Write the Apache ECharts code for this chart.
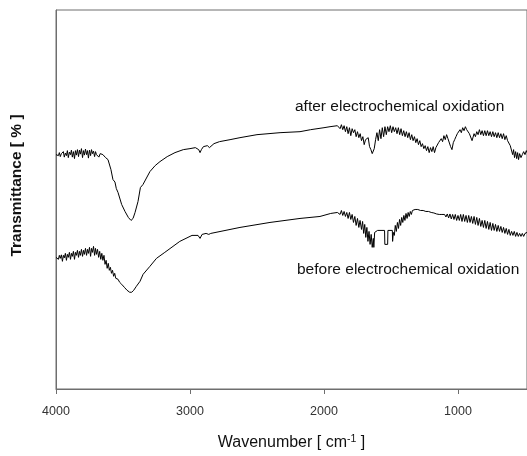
<!DOCTYPE html>
<html>
<head>
<meta charset="utf-8">
<script src="https://cdn.jsdelivr.net/npm/echarts@6/dist/echarts.min.js"></script>
<style>
html,body{margin:0;padding:0;background:#fff;}
#chart{width:527px;height:456px;}
</style>
</head>
<body>
<div id="chart"></div>
<script>
// x-axis tick labels (wavenumber, cm^-1)
var xTicks = [1000, 2000, 3000, 4000];

// "after electrochemical oxidation" spectrum: wavenumbers and transmittance (arbitrary offset units)
var afterWn = [4000,3990,3982,3975,3968,3960,3952,3945,3938,3930,3922,3915,3908,3900,3892,3885,3878,3870,3862,3855,3848,3840,3832,3825,3818,3810,3802,3795,3788,3780,3772,3765,3758,3750,3742,3735,3728,3720,3712,3705,3698,3690,3680,3670,3660,3650,3630,3612,3590,3575,3560,3550,3537,3510,3485,3460,3440,3425,3410,3388,3370,3351,3299,3260,3224,3170,3112,3050,3000,2960,2935,2925,2915,2900,2870,2855,2843,2821,2780,2701,2627,2500,2328,2179,2100,2000,1955,1900,
1890,1880,1870,1860,1850,1840,1830,1820,1810,1800,1790,1780,1770,1760,1750,1740,1730,1720,1710,1700,1690,1680,1670,1660,1650,1640,1632,1625,1615,1605,1595,1585,1575,1565,1555,1545,1535,1525,1515,1505,1495,1485,1475,1465,1455,1445,1435,1425,1415,1405,1395,1385,1375,1365,1355,1345,1335,1325,1315,1305,1295,1285,1275,1265,1255,1245,1235,1225,1215,1205,1195,1185,1175,1165,1155,1145,1135,1125,1115,1105,1095,1085,1075,1065,1055,1045,1035,1025,1015,1005,995,985,975,965,955,945,935,925,915,905,895,888,880,870,860,850,840,830,820,810,
800,790,780,770,760,750,740,730,720,710,700,690,680,670,660,650,640,630,620,610,600,592,585,578,570,562,555,548,540,530,520,510,500,490,485];
var afterT = [47.0,47.2,46.8,47.4,46.6,47.2,46.9,47.6,46.5,47.3,46.8,47.8,46.4,47.5,47.0,47.9,46.5,47.6,46.2,47.8,46.9,48.0,46.6,47.9,47.1,48.2,46.4,47.8,46.9,48.1,47.0,47.8,46.3,47.9,46.8,48.0,47.2,47.7,46.6,47.6,47.0,47.4,46.5,47.2,46.8,47.0,46.4,46.0,44.0,42.0,41.5,40.2,39.4,37.0,35.6,34.4,33.8,34.2,35.4,37.6,40.4,41.0,43.6,44.8,45.6,46.6,47.4,48.0,48.2,48.4,48.0,47.4,48.0,48.6,48.8,48.4,48.8,49.2,49.6,50.0,50.4,51.0,51.4,51.6,52.0,52.4,52.6,52.8,
52.8,52.2,53.0,52.0,52.8,51.6,52.6,51.2,52.4,50.8,52.2,51.4,52.0,50.6,51.6,50.4,51.2,49.8,50.6,49.0,50.0,49.6,50.4,48.6,48.0,47.2,47.0,48.2,50.0,51.4,49.8,52.0,50.2,52.4,50.6,52.6,51.0,52.6,51.6,52.8,51.4,52.6,51.6,52.4,51.2,52.4,51.0,52.2,50.8,51.8,50.6,51.6,50.4,51.4,50.0,51.0,49.8,50.6,49.4,50.2,49.0,49.8,48.6,49.2,48.2,48.8,47.8,48.6,47.4,48.4,47.6,48.6,47.4,48.4,48.0,49.4,49.0,50.2,49.6,50.8,50.0,51.0,50.2,50.4,48.6,48.0,49.4,50.0,50.6,51.2,51.0,52.0,51.4,52.4,51.8,52.6,52.0,52.4,51.2,51.6,49.8,50.0,51.2,50.6,51.6,51.0,52.0,51.0,51.8,50.8,
51.8,50.8,51.8,50.8,51.6,50.6,51.6,50.6,51.4,50.4,51.4,50.4,51.2,50.2,51.2,50.0,50.8,49.8,50.2,48.8,48.6,47.0,48.0,46.4,47.6,46.2,47.4,46.0,47.2,46.4,47.0,47.6,47.0,47.8,47.4];

// "before electrochemical oxidation" spectrum
var beforeWn = [4000,3990,3982,3975,3968,3960,3952,3945,3938,3930,3922,3915,3908,3900,3892,3885,3878,3870,3862,3855,3848,3840,3832,3825,3818,3810,3802,3795,3788,3780,3772,3765,3758,3750,3742,3735,3728,3720,3712,3705,3698,3690,3682,3674,3666,3658,3650,3642,3634,3626,3618,3610,3602,3594,3586,3578,3570,3562,3554,3546,3537,3525,3510,3490,3470,3450,3435,3420,3400,3373,3350,3299,3250,3188,3076,2985,2940,2925,2910,2880,2860,2845,2627,2403,2179,2030,1950,1900,
1890,1880,1870,1860,1850,1840,1830,1820,1810,1800,1790,1780,1770,1760,1750,1740,1731,1720,1712,1704,1696,1688,1680,1672,1664,1656,1648,1640,1632,1628,1622,1612,1600,1548,1546,1525,1523,1490,1488,1484,1482,1475,1468,1460,1452,1444,1436,1428,1420,1412,1404,1396,1388,1380,1372,1364,1356,1348,1340,1330,1320,1310,1300,1290,1280,1270,1260,1250,1240,1230,1220,1210,1200,1190,1180,1170,1160,1150,1140,1130,1120,1110,1100,1090,1080,1070,1060,1050,1040,1030,1020,1010,1000,990,980,970,960,950,940,930,920,910,900,890,880,870,860,850,840,830,820,810,
800,790,780,770,760,750,740,730,720,710,700,690,680,670,660,650,640,630,620,610,600,590,580,570,560,550,540,530,520,510,500,490,485];
var beforeT = [26.4,26.6,26.0,26.8,26.2,26.9,25.6,26.8,26.3,27.2,25.8,27.0,26.4,27.4,26.0,27.2,26.6,27.6,26.0,27.4,26.8,27.8,26.4,27.6,26.8,28.0,26.6,27.8,27.0,28.2,26.8,28.0,27.2,28.4,26.6,28.2,27.4,28.6,26.8,28.2,27.0,28.0,26.4,27.6,26.0,27.2,25.8,26.8,25.0,25.8,24.2,25.2,23.8,24.4,23.2,23.8,22.6,23.2,22.2,22.6,22.0,21.4,21.0,20.4,19.8,19.4,19.4,19.8,20.6,21.6,23.0,24.6,26.2,27.4,29.6,30.8,30.8,30.2,31.0,31.2,31.0,31.2,32.4,33.4,34.2,34.6,35.2,35.4,
35.6,35.0,35.8,34.8,35.6,34.6,35.4,34.2,35.4,34.0,35.0,33.4,34.6,32.8,34.2,32.4,33.8,32.0,33.6,31.2,33.0,30.4,32.4,29.6,31.6,29.0,31.0,28.4,30.2,28.4,31.4,31.6,31.8,31.8,29.0,29.0,31.8,31.8,29.6,29.6,31.4,30.8,32.8,31.6,33.4,32.2,34.0,32.8,34.4,33.4,34.8,33.8,35.2,34.2,35.4,34.6,35.6,35.0,35.8,35.5,36.0,35.7,36.0,35.7,35.8,35.6,35.8,35.5,35.6,35.4,35.6,35.3,35.4,35.2,35.3,35.0,35.1,34.9,35.0,34.8,35.0,34.7,35.0,34.5,35.1,34.3,35.1,34.1,35.0,34.0,35.0,33.8,34.8,33.8,35.0,33.6,35.0,33.6,34.8,33.4,34.8,33.4,34.6,33.2,34.6,33.0,34.4,32.8,34.2,32.6,33.8,32.4,33.8,32.2,
33.6,32.0,33.4,31.8,33.2,31.8,33.0,31.6,32.8,31.6,32.6,31.4,32.4,31.2,32.2,31.0,32.0,30.8,31.6,30.8,31.6,30.6,31.4,30.6,31.2,30.6,31.2,30.6,31.2,31.0,31.4,31.6,31.4];

// annotation texts
var labelAfter = 'after electrochemical oxidation';
var labelBefore = 'before electrochemical oxidation';

function pairs(xs, ys){ var out=[]; for(var i=0;i<xs.length;i++){ out.push([xs[i], ys[i]]); } return out; }

var FONT = '"Liberation Sans", Arial, sans-serif';
var chart = echarts.init(document.getElementById('chart'), null, {renderer:'canvas'});
var option = {
  animation: false,
  backgroundColor: '#fff',
  grid: { left: 56, top: 10, width: 473, height: 380, show: true, borderColor: '#6e6e6e', borderWidth: 1, containLabel: false },
  xAxis: {
    type: 'value', inverse: true, min: 485, max: 4000,
    name: '{a|Wavenumber [ cm}{s|-1}{a| ]}',
    nameLocation: 'middle', nameGap: 45,
    nameTextStyle: { rich: {
      a: { fontFamily: FONT, fontSize: 16, color: '#111', verticalAlign: 'bottom' },
      s: { fontFamily: FONT, fontSize: 10.5, color: '#111', verticalAlign: 'top', padding: [0,0,6,0] }
    } },
    axisLine: { show: true, lineStyle: { color: '#6e6e6e', width: 1 } },
    axisTick: { show: true, inside: false, length: 5, customValues: xTicks, lineStyle: { color: '#6e6e6e' } },
    axisLabel: { show: true, customValues: xTicks, margin: 16, fontFamily: FONT, fontSize: 12.5, color: '#333', showMinLabel: true, showMaxLabel: true,
      formatter: function (v) { return String(v); } },
    splitLine: { show: false }
  },
  yAxis: {
    type: 'value', min: 0, max: 76,
    name: 'Transmittance [ % ]',
    nameLocation: 'middle', nameGap: 31,
    nameTextStyle: { fontFamily: FONT, fontWeight: 'bold', fontSize: 15.5, color: '#111', padding: [0,0,0,28] },
    axisLine: { show: true, lineStyle: { color: '#6e6e6e' } },
    axisTick: { show: false }, axisLabel: { show: false }, splitLine: { show: false }
  },
  graphic: [
    { type: 'text', left: 295, top: 99, style: { text: labelAfter, font: '15.5px ' + FONT, fill: '#111' } },
    { type: 'text', left: 297, top: 262, style: { text: labelBefore, font: '15.5px ' + FONT, fill: '#111' } }
  ],
  series: [
    { name: 'after', type: 'line', data: pairs(afterWn, afterT), showSymbol: false, symbol: 'none', lineStyle: { color: '#000', width: 1 }, z: 3 },
    { name: 'before', type: 'line', data: pairs(beforeWn, beforeT), showSymbol: false, symbol: 'none', lineStyle: { color: '#000', width: 1 }, z: 3 }
  ]
};
chart.setOption(option);
</script>
</body>
</html>
